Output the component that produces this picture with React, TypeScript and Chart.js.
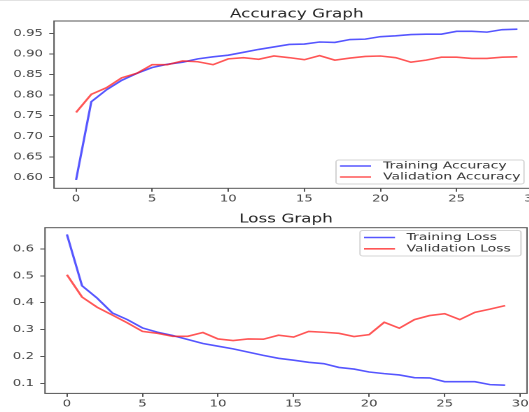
import React, { useEffect, useRef } from 'react'
import { Chart, registerables } from 'chart.js'

Chart.register(...registerables)

// values
const epochs = [0, 1, 2, 3, 4, 5, 6, 7, 8, 9, 10, 11, 12, 13, 14, 15, 16, 17, 18, 19, 20, 21, 22, 23, 24, 25, 26, 27, 28, 29]

const trainAcc = [0.594, 0.784, 0.813, 0.836, 0.853, 0.867, 0.875, 0.88, 0.888, 0.893, 0.897, 0.904, 0.911, 0.917, 0.923, 0.924, 0.929, 0.928, 0.935, 0.936, 0.942, 0.944, 0.947, 0.948, 0.948, 0.955, 0.955, 0.953, 0.959, 0.96]
const valAcc = [0.758, 0.802, 0.818, 0.842, 0.853, 0.874, 0.874, 0.883, 0.881, 0.874, 0.888, 0.891, 0.887, 0.895, 0.891, 0.886, 0.896, 0.885, 0.89, 0.894, 0.895, 0.891, 0.88, 0.885, 0.892, 0.892, 0.889, 0.889, 0.892, 0.893]

const trainLoss = [0.654, 0.463, 0.417, 0.362, 0.337, 0.306, 0.29, 0.278, 0.263, 0.248, 0.238, 0.228, 0.216, 0.204, 0.193, 0.186, 0.178, 0.173, 0.159, 0.153, 0.142, 0.136, 0.131, 0.121, 0.12, 0.106, 0.106, 0.106, 0.095, 0.093]
const valLoss = [0.504, 0.421, 0.383, 0.354, 0.325, 0.293, 0.286, 0.275, 0.275, 0.289, 0.265, 0.259, 0.265, 0.264, 0.279, 0.272, 0.293, 0.29, 0.286, 0.274, 0.281, 0.327, 0.305, 0.337, 0.352, 0.359, 0.337, 0.364, 0.376, 0.389]

const xTicks = [0, 5, 10, 15, 20, 25, 30]
const accTicks = [0.6, 0.65, 0.7, 0.75, 0.8, 0.85, 0.9, 0.95]
const accTickLabels = ['0.60', '0.65', '0.70', '0.75', '0.80', '0.85', '0.90', '0.95']
const lossTicks = [0.1, 0.2, 0.3, 0.4, 0.5, 0.6]
const lossTickLabels = ['0.1', '0.2', '0.3', '0.4', '0.5', '0.6']

// the reference is stretched sideways, so draw narrow and stretch with css
const SX = 1.4
const H = 206
const FONT = 'DejaVu Sans'
const BLUE = 'rgba(30, 30, 255, 0.75)'
const RED = 'rgba(255, 30, 30, 0.75)'
const INK = '#555'

type PanelCfg = {
  title: string
  names: string[]
  series: number[][]
  yMin: number
  yMax: number
  yTicks: number[]
  yLabels: string[]
  top: number
  width: number
  area: { left: number; right: number; top: number; bottom: number }
  titleY: number
  legend: { x0: number; x1: number; y0: number; y1: number; lx0: number; lx1: number; tx: number; rows: number[] }
}

const accPanel: PanelCfg = {
  title: 'Accuracy Graph',
  names: ['Training Accuracy', 'Validation Accuracy'],
  series: [trainAcc, valAcc],
  yMin: 0.5737,
  yMax: 0.98,
  yTicks: accTicks,
  yLabels: accTickLabels,
  top: 0,
  width: 392,
  area: { left: 54 / SX, right: 539.5 / SX, top: 21, bottom: 188.3 },
  titleY: 14.2,
  legend: { x0: 336 / SX, x1: 524 / SX, y0: 160, y1: 184, lx0: 340 / SX, lx1: 371 / SX, tx: 383 / SX, rows: [166, 177] },
}

const lossPanel: PanelCfg = {
  title: 'Loss Graph',
  names: ['Training Loss', 'Validation Loss'],
  series: [trainLoss, valLoss],
  yMin: 0.0624,
  yMax: 0.679,
  yTicks: lossTicks,
  yLabels: lossTickLabels,
  top: 206,
  width: 384,
  area: { left: 45 / SX, right: 527 / SX, top: 21.7, bottom: 187.4 },
  titleY: 13.6,
  legend: { x0: 360 / SX, x1: 521 / SX, y0: 24.5, y1: 50, lx0: 364 / SX, lx1: 395 / SX, tx: 406.5 / SX, rows: [31.5, 42.8] },
}

const mplLook = {
  id: 'mplLook',
  afterDraw(chart: any, _args: any, opts: any) {
    const { ctx, chartArea: a } = chart
    ctx.save()
    ctx.strokeStyle = INK
    ctx.lineWidth = 1
    ctx.strokeRect(a.left, a.top, a.right - a.left, a.bottom - a.top)

    ctx.fillStyle = '#222'
    ctx.font = `12px "${FONT}"`
    ctx.textAlign = 'center'
    ctx.textBaseline = 'middle'
    ctx.fillText(opts.title, (a.left + a.right) / 2, opts.titleY)

    const L = opts.legend
    ctx.beginPath()
    ctx.roundRect(L.x0, L.y0, L.x1 - L.x0, L.y1 - L.y0, 2)
    ctx.fillStyle = 'rgba(255,255,255,0.8)'
    ctx.fill()
    ctx.strokeStyle = '#d4d4d4'
    ctx.stroke()

    ctx.font = `10px "${FONT}"`
    ctx.textAlign = 'left'
    chart.data.datasets.forEach((ds: any, i: number) => {
      const y = L.rows[i]
      ctx.beginPath()
      ctx.moveTo(L.lx0, y)
      ctx.lineTo(L.lx1, y)
      ctx.strokeStyle = ds.borderColor
      ctx.lineWidth = 1.6
      ctx.stroke()
      ctx.fillStyle = '#333'
      ctx.fillText(ds.label, L.tx, y)
    })
    ctx.restore()
  },
}

function Panel({ cfg }: { cfg: PanelCfg }) {
  const canvasRef = useRef<HTMLCanvasElement | null>(null)

  useEffect(() => {
    if (!canvasRef.current) return
    const a = cfg.area
    const tickFont = { family: FONT, size: 9.5 }

    const chart = new Chart(canvasRef.current, {
      type: 'line',
      data: {
        datasets: cfg.series.map((vals, i) => ({
          label: cfg.names[i],
          data: epochs.map((e, j) => ({ x: e, y: vals[j] })),
          borderColor: i === 0 ? BLUE : RED,
          borderWidth: 1.6,
          pointRadius: 0,
          tension: 0,
          fill: false,
          order: i === 0 ? 1 : 0,
        })),
      },
      options: {
        responsive: false,
        animation: false,
        devicePixelRatio: 2,
        events: [],
        layout: {
          autoPadding: false,
          padding: { left: 0, top: a.top, right: cfg.width - a.right, bottom: 0 },
        },
        plugins: {
          legend: { display: false },
          title: { display: false },
          tooltip: { enabled: false },
          mplLook: { title: cfg.title, titleY: cfg.titleY, legend: cfg.legend },
        } as any,
        scales: {
          x: {
            type: 'linear',
            min: -1.45,
            max: 30.45,
            afterBuildTicks: (s: any) => {
              s.ticks = xTicks.map(v => ({ value: v }))
            },
            afterFit: (s: any) => {
              s.height = H - a.bottom
            },
            ticks: { font: tickFont, color: '#444', padding: 1.5, maxRotation: 0, autoSkip: false, callback: (v: any) => String(v) },
            grid: { drawOnChartArea: false, drawTicks: true, tickLength: 3.5, color: INK },
            border: { display: false },
          },
          y: {
            type: 'linear',
            min: cfg.yMin,
            max: cfg.yMax,
            afterBuildTicks: (s: any) => {
              s.ticks = cfg.yTicks.map(v => ({ value: v }))
            },
            afterFit: (s: any) => {
              s.width = a.left
            },
            ticks: { font: tickFont, color: '#444', padding: 4.5, autoSkip: false, callback: (_v: any, idx: number) => cfg.yLabels[idx] },
            grid: { drawOnChartArea: false, drawTicks: true, tickLength: 3.4, color: INK },
            border: { display: false },
          },
        },
      },
      plugins: [mplLook],
    })

    return () => {
      chart.destroy()
    }
  }, [])

  return (
    <div
      style={{
        position: 'absolute',
        left: 0,
        top: cfg.top,
        width: cfg.width,
        height: H,
        transform: `scaleX(${SX})`,
        transformOrigin: '0 0',
      }}
    >
      <canvas ref={canvasRef} width={cfg.width} height={H} />
    </div>
  )
}

export default function App() {
  return (
    <div style={{ position: 'fixed', left: 0, top: 0, width: 529, height: 412, overflow: 'hidden', background: '#fff' }}>
      <div style={{ position: 'absolute', left: 0, top: 0, width: 529, height: 1, background: '#e2e2e2' }} />
      <Panel cfg={accPanel} />
      <Panel cfg={lossPanel} />
    </div>
  )
}
